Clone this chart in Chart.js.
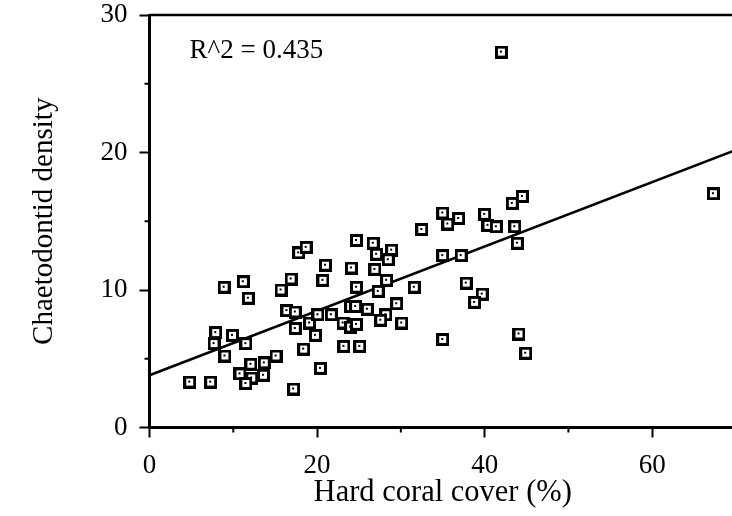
<!DOCTYPE html>
<html><head><meta charset="utf-8">
<script src="https://cdn.jsdelivr.net/npm/chart.js@4/dist/chart.umd.min.js"></script>
<style>
html,body{margin:0;padding:0;background:#fff;overflow:hidden;width:732px;height:516px;}
#wrap{width:740px;height:516px;}
canvas{display:block;}
</style></head><body>
<div id="wrap"><canvas id="c" width="740" height="516"></canvas></div>
<script>
// Hard coral cover (%) per site
const coralCover = [4.8,7.3,7.9,7.7,9.9,11.5,9.0,8.9,11.2,11.8,
  10.8,12.1,13.7,15.1,12.2,13.6,11.5,15.7,16.9,16.4,
  17.4,17.4,17.2,17.8,18.7,19.1,18.4,19.8,20.4,20.1,
  21.7,20.7,21.0,23.1,23.2,24.0,24.1,24.7,24.7,24.0,
  24.6,26.0,24.7,25.1,26.7,27.1,28.9,28.5,26.9,28.3,
  27.3,29.5,28.2,27.6,30.1,31.6,32.5,35.0,35.6,36.9,
  40.0,40.4,41.4,43.3,44.5,43.6,43.9,35.0,37.2,37.8,
  39.7,38.8,35.0,44.1,44.9,67.3,42.0];
// Chaetodontid density per site
const chaetDensity = [3.3,3.3,6.9,6.1,6.7,6.1,5.2,10.2,10.6,9.4,
  3.9,4.6,4.7,5.2,3.6,3.8,3.2,10.0,10.8,8.5,
  8.4,7.2,2.8,12.7,13.1,7.6,5.7,6.7,4.3,8.2,
  8.2,10.7,11.8,7.6,5.9,7.3,11.6,13.6,10.2,8.8,
  8.8,8.6,7.5,5.9,13.4,12.6,12.9,12.2,11.5,10.7,
  9.9,9.0,8.2,7.8,7.6,10.2,14.4,15.6,14.8,15.2,
  15.5,14.7,14.6,16.3,16.8,14.6,13.4,12.5,12.5,10.5,
  9.7,9.1,6.4,6.8,5.4,17.0,27.3];
// Regression line end points
const fitX = [0, 70];
const fitY = [3.8, 20.18];
const xTickValues = [0, 20, 40, 60];
const yTickValues = [0, 10, 20, 30];
const xMinorTicks = [10, 30, 50];
const yMinorTicks = [5, 15, 25];
const xTitle = 'Hard coral cover (%)';
const yTitle = 'Chaetodontid density';
const r2Label = 'R^2 = 0.435';

const FONT = 'Liberation Serif';

function makeMarker(){
  const c = document.createElement('canvas');
  c.width = 13; c.height = 13;
  const g = c.getContext('2d');
  g.fillStyle = '#000'; g.fillRect(0,0,13,13);
  g.fillStyle = '#fff'; g.fillRect(3,3,7,7);
  g.fillStyle = '#000'; g.fillRect(5,5,2,2);
  return c;
}
const marker = makeMarker();

const framePlugin = {
  id: 'frame',
  afterDraw(chart){
    const {ctx, chartArea: a, scales: {x, y}} = chart;
    ctx.save();
    ctx.strokeStyle = '#000';
    ctx.lineWidth = 2.5;
    ctx.beginPath();
    ctx.moveTo(a.left, a.top); ctx.lineTo(a.right, a.top); ctx.lineTo(a.right, a.bottom);
    ctx.stroke();
    ctx.lineWidth = 2;
    ctx.beginPath();
    xMinorTicks.forEach(v => { const px = x.getPixelForValue(v); ctx.moveTo(px, a.bottom); ctx.lineTo(px, a.bottom + 5); });
    yMinorTicks.forEach(v => { const py = y.getPixelForValue(v); ctx.moveTo(a.left, py); ctx.lineTo(a.left - 5, py); });
    ctx.stroke();
    ctx.font = '27px "' + FONT + '"';
    ctx.fillStyle = '#000';
    ctx.textBaseline = 'middle';
    ctx.textAlign = 'left';
    ctx.fillText(r2Label, a.left + 40, a.top + 36);
    ctx.restore();
  }
};

new Chart(document.getElementById('c'), {
  type: 'scatter',
  data: {
    datasets: [
      {
        type: 'line',
        data: fitX.map((v, i) => ({x: v, y: fitY[i]})),
        borderColor: '#000', borderWidth: 2.5, pointRadius: 0, fill: false, order: 2
      },
      {
        data: coralCover.map((v, i) => ({x: v, y: chaetDensity[i]})),
        pointStyle: marker, pointRadius: 6.5, order: 1
      }
    ]
  },
  options: {
    responsive: false, animation: false, devicePixelRatio: 1,
    layout: {autoPadding: false, padding: {left: 0, top: 15, right: 4, bottom: 0}},
    plugins: {legend: {display: false}, tooltip: {enabled: false}},
    scales: {
      x: {
        type: 'linear', min: 0, max: 70,
        afterBuildTicks: s => { s.ticks = xTickValues.map(v => ({value: v})); },
        afterFit: s => { s.height = 88.5; s.paddingLeft = 0; s.paddingRight = 0; },
        grid: {drawOnChartArea: false, drawTicks: true, tickLength: 10, tickWidth: 2, tickColor: '#000'},
        border: {display: true, color: '#000', width: 3},
        ticks: {color: '#000', font: {family: FONT, size: 27}, padding: 12, maxRotation: 0, autoSkip: false},
        title: {display: true, text: xTitle, color: '#000', font: {family: FONT, size: 30.5}, padding: {top: 0, bottom: 5}}
      },
      y: {
        type: 'linear', min: 0, max: 30,
        afterBuildTicks: s => { s.ticks = yTickValues.map(v => ({value: v})); },
        afterFit: s => { s.width = 149.5; s.paddingTop = 0; s.paddingBottom = 0; },
        grid: {drawOnChartArea: false, drawTicks: true, tickLength: 10, tickWidth: 2, tickColor: '#000'},
        border: {display: true, color: '#000', width: 3},
        ticks: {color: '#000', font: {family: FONT, size: 27}, padding: 12, autoSkip: false},
        title: {display: true, text: yTitle, color: '#000', font: {family: FONT, size: 29}, padding: {top: 27, bottom: 0}}
      }
    }
  },
  plugins: [framePlugin]
});
</script>
</body></html>
